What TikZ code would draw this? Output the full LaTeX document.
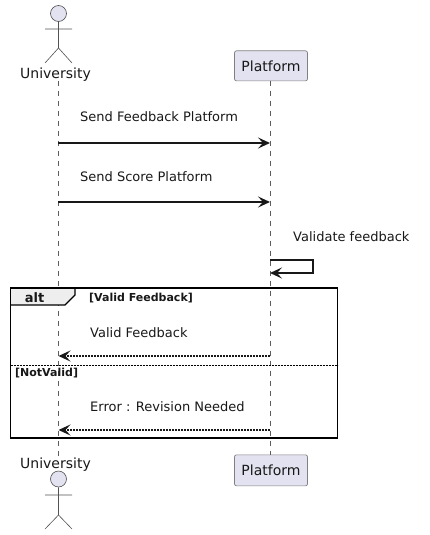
\documentclass[tikz,border=0pt]{standalone}
\usepackage{fontspec}
\setmainfont{DejaVu Sans}
\usetikzlibrary{arrows.meta}
\definecolor{pfill}{HTML}{E2E2F0}
\definecolor{pline}{HTML}{181818}
\definecolor{tabfill}{HTML}{EEEEEE}
\tikzset{
  part/.style={draw=pline!55!white,fill=pfill,rounded corners=2pt,line width=0.7pt,minimum width=73pt,inner sep=0pt,font=\fontsize{14}{16}\selectfont,text=pline},
  actorname/.style={font=\fontsize{14}{16}\selectfont,text=pline,anchor=base,inner sep=0pt},
  msgtext/.style={font=\fontsize{13}{15}\selectfont,text=pline,anchor=base west,inner sep=0pt},
  guardtext/.style={font=\fontsize{11}{13}\bfseries\selectfont,text=pline,anchor=base west,inner sep=0pt},
  lifeline/.style={draw=pline!70!white,line width=0.6pt,dash pattern=on 5pt off 5pt},
  stick/.style={draw=pline!75!white,line width=0.6pt},
  msg/.style={draw=pline,line width=1.9pt,-{Stealth[length=12pt,width=11pt,inset=5pt]}},
  reply/.style={msg,dash pattern=on 2pt off 1pt},
  frameline/.style={draw=black,line width=1.8pt},
}
\begin{document}
\begin{tikzpicture}[x=1pt,y=-1pt]
\useasboundingbox (0,0) rectangle (430,535);
% lifelines
\coordinate (ut) at (58.5,81);
\coordinate (ub) at (58.5,457);
\node[part,minimum height=30pt,anchor=north] (pt) at (271,50.5) {Platform};
\node[part,minimum height=31pt,anchor=north] (pb) at (271,454.5) {Platform};
\draw[lifeline] (ut) -- (ub);
\draw[lifeline] (270.5,80.5) -- (270.5,454.5);
% top actor
\node[circle,draw=pline!75!white,fill=pfill,line width=0.6pt,minimum size=16pt,inner sep=0pt] (h1) at (58.5,13.5) {};
\coordinate (n1) at (58.5,48);
\draw[stick] (h1.south) -- (n1) (45,29) -- (72,29) (45,63) -- (n1) -- (72,63);
\node[actorname] (u1) at (55.5,78) {University};
% bottom actor
\node[circle,draw=pline!75!white,fill=pfill,line width=0.6pt,minimum size=16pt,inner sep=0pt] (h2) at (58.5,479) {};
\coordinate (n2) at (58.5,515);
\draw[stick] (h2.south) -- (n2) (45,495) -- (72,495) (45,529) -- (n2) -- (72,529);
\node[actorname] (u2) at (55.5,468) {University};
% frame
\coordinate (fa) at (10.5,288);
\coordinate (fb) at (337.5,438);
\fill[tabfill] (fa) -- (75,288) -- (75,295) -- (65,305) -- (10.5,305) -- cycle;
\draw[frameline] (fa) rectangle (fb);
\draw[draw=black,line width=1.2pt] (75,288) -- (75,295) -- (65,305) -- (10.5,305);
\draw[draw=black,line width=0.9pt,dash pattern=on 2pt off 1pt] (10.5,365.5) -- (337.5,365.5);
\node[font=\fontsize{13}{15}\bfseries\selectfont,anchor=base,inner sep=0pt,text=pline] (alt) at (34.5,302) {alt};
\node[guardtext] (g1) at (89,301) {[Valid Feedback]};
\node[guardtext] (g2) at (15,376) {[NotValid]};
% messages
\coordinate (a1) at (58,143); \coordinate (b1) at (270,143);
\coordinate (a2) at (58,202); \coordinate (b2) at (270,202);
\coordinate (s1) at (270,260); \coordinate (s2) at (313,260);
\coordinate (s3) at (313,273); \coordinate (s4) at (270,273);
\coordinate (a3) at (58.5,356); \coordinate (b3) at (270,356);
\coordinate (a4) at (58.5,430); \coordinate (b4) at (270,430);
\draw[msg] (a1) -- (b1);
\draw[msg] (a2) -- (b2);
\draw[msg] (s1) -- (s2) -- (s3) -- (s4);
\draw[reply] (b3) -- (a3);
\draw[reply] (b4) -- (a4);
\node[msgtext] (m1) at (80,121.5) {Send Feedback Platform};
\node[msgtext] (m2) at (80,181) {Send Score Platform};
\node[msgtext] (m3) at (293,241) {Validate feedback};
\node[msgtext] (m4) at (90,337) {Valid Feedback};
\node[msgtext] (m5) at (90,411) {Error : Revision Needed};
\end{tikzpicture}
\end{document}
